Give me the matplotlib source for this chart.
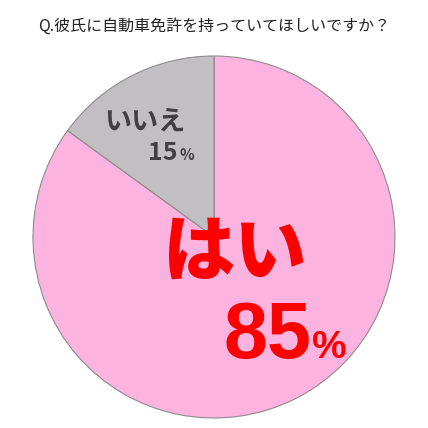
import matplotlib.pyplot as plt

plt.rcParams['font.family'] = ['Noto Sans CJK JP', 'DejaVu Sans']

title = 'Q.彼氏に自動車免許を持っていてほしいですか？'
labels = ['はい', 'いいえ']
values = [85, 15]
colors = ['#FDB3DF', '#C1BFC2']

fig = plt.figure(figsize=(4.28, 4.28), dpi=100)
fig.patch.set_facecolor('white')

# pie centre ~ (214, 237) px, radius ~ 181 px
cx, cy, r = 214 / 428, 1 - 237 / 428, 181 / 428
ax = fig.add_axes([cx - r, cy - r, 2 * r, 2 * r])
ax.pie(values, colors=colors, startangle=90, counterclock=False, radius=1,
       wedgeprops=dict(edgecolor='#8C8C8C', linewidth=0.8))
ax.set_xlim(-1, 1)
ax.set_ylim(-1, 1)
ax.set_aspect('equal')
ax.axis('off')

fig.text(0.5, 1 - 26 / 428, title, ha='center', va='center', fontsize=11.5, color='#222222')

digits = ['Liberation Sans', 'DejaVu Sans']

# はい 85%
fig.text(234 / 428, 1 - 253 / 428, labels[0], ha='center', va='center',
         fontsize=52, fontweight='black', color='#FF0000')
fig.text(311 / 428, 1 - 358 / 428, f'{values[0]}', ha='right', va='baseline',
         fontsize=57, fontweight='bold', color='#FF0000', family=digits)
fig.text(312 / 428, 1 - 358 / 428, '%', ha='left', va='baseline',
         fontsize=28, fontweight='bold', color='#FF0000', family=digits)

# いいえ 15%
fig.text(145 / 428, 1 - 121 / 428, labels[1], ha='center', va='center',
         fontsize=19.5, fontweight='bold', color='#404040')
fig.text(178 / 428, 1 - 160 / 428, f'{values[1]}', ha='right', va='baseline',
         fontsize=18, fontweight='bold', color='#404040')
fig.text(179 / 428, 1 - 160 / 428, '%', ha='left', va='baseline',
         fontsize=11, fontweight='bold', color='#404040')

fig.savefig('out.png', dpi=100)
